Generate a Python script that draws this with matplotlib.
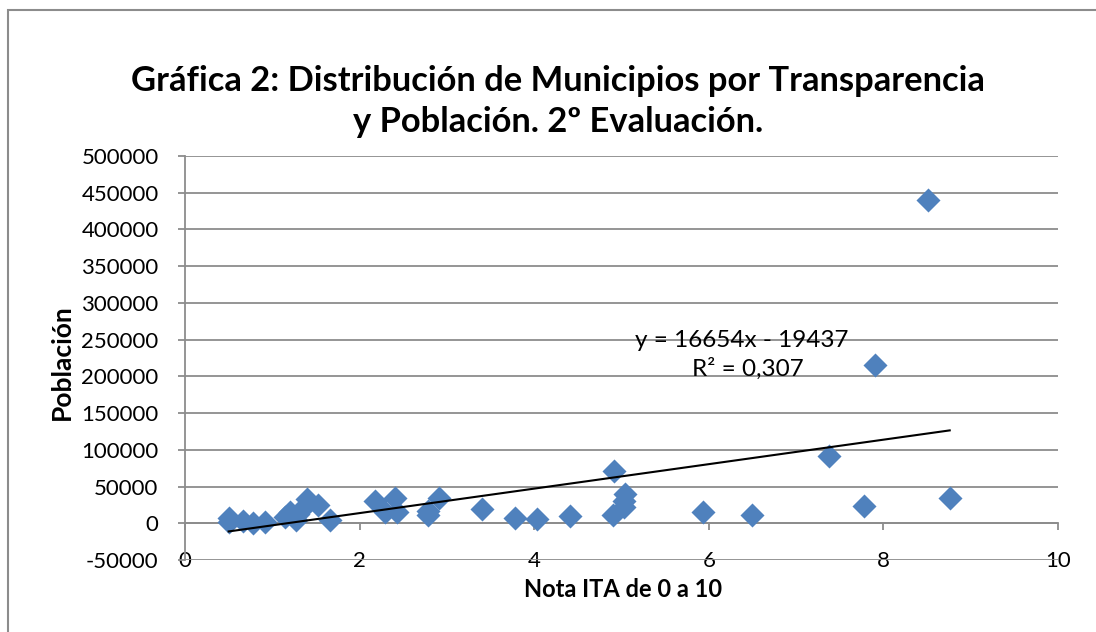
'''
Gráfica 2: municipios por transparencia y población (scatter + linear trend)
'''

import matplotlib.pyplot as plt
from matplotlib.patches import Rectangle

# Nota ITA (x) and población (y)
nota_ita = [0.50, 0.50, 0.66, 0.78, 0.92, 1.15, 1.20, 1.27, 1.30, 1.34, 1.40,
            1.52, 1.66, 2.18, 2.29, 2.40, 2.43, 2.78, 2.78, 2.91, 3.40, 3.78,
            4.03, 4.41, 4.91, 4.90, 5.04, 5.03, 5.03, 5.93, 6.50, 7.38, 7.78,
            7.90, 8.51, 8.76]
poblacion = [7000, 2000, 3000, 1000, 2000, 8000, 15000, 4000, 12000, 20000, 33000,
             25000, 5000, 30000, 16000, 35000, 15000, 17000, 11000, 35000, 20000, 7000,
             6000, 10000, 71000, 11000, 40000, 31000, 22000, 16000, 11000, 91000, 23000,
             216000, 440000, 35000]

slope = 16654
intercept = -19437
r2_text = 'R² = 0,307'
eq_text = 'y = 16654x - 19437'

title = 'Gráfica 2: Distribución de Municipios por Transparencia\ny Población. 2º Evaluación.'
xlabel = 'Nota ITA de 0 a 10'
ylabel = 'Población'

plt.rcParams['font.family'] = ['Lato', 'DejaVu Sans']
plt.rcParams['axes.unicode_minus'] = False

fig = plt.figure(figsize=(10.96, 6.32), dpi=100)
fig.patches.append(Rectangle((0.0073, -0.1), 1.1, 1.084, transform=fig.transFigure,
                             fill=False, edgecolor='#8c8c8c', linewidth=1.5))
ax = fig.add_axes([0.1688, 0.1139, 0.7965, 0.6393])

ax.scatter(nota_ita, poblacion, marker='D', s=150, color='#4f81bd', zorder=3,
           linewidths=0)

xs = [min(nota_ita), max(nota_ita)]
ax.plot(xs, [slope * x + intercept for x in xs], color='black', linewidth=1.5, zorder=4)

ax.set_xlim(0, 10)
ax.set_ylim(-50000, 500000)
ax.set_xticks(range(0, 11, 2))
ax.set_yticks(range(-50000, 500001, 50000))
ax.yaxis.grid(True, color='#8c8c8c', linewidth=1.3)
ax.set_axisbelow(True)

for side in ['top', 'right']:
    ax.spines[side].set_visible(False)
ax.spines['left'].set_color('#8c8c8c')
ax.spines['left'].set_linewidth(1.3)
ax.spines['bottom'].set_position(('data', 0))
ax.spines['bottom'].set_color('#8c8c8c')
ax.spines['bottom'].set_linewidth(1.3)

ax.tick_params(axis='x', direction='out', length=5, width=1.3, color='#8c8c8c',
               pad=15, labelsize=16)
ax.tick_params(axis='y', direction='out', length=5, width=1.3, color='#8c8c8c',
               pad=14, labelsize=16)

ax.text(6.38, 249000, eq_text, fontsize=17.5, ha='center', va='center')
ax.text(6.45, 211000, r2_text, fontsize=17.5, ha='center', va='center')

fig.text(0.509, 0.840, title, fontsize=24.8, fontweight='bold', ha='center',
         va='center', linespacing=1.35)
ax.set_xlabel(xlabel, fontsize=17, fontweight='bold')
ax.set_ylabel(ylabel, fontsize=19, fontweight='bold')
ax.xaxis.set_label_coords(0.502, -0.045)
ax.yaxis.set_label_coords(-0.127, 0.49)

fig.savefig('out.png', dpi=100)
